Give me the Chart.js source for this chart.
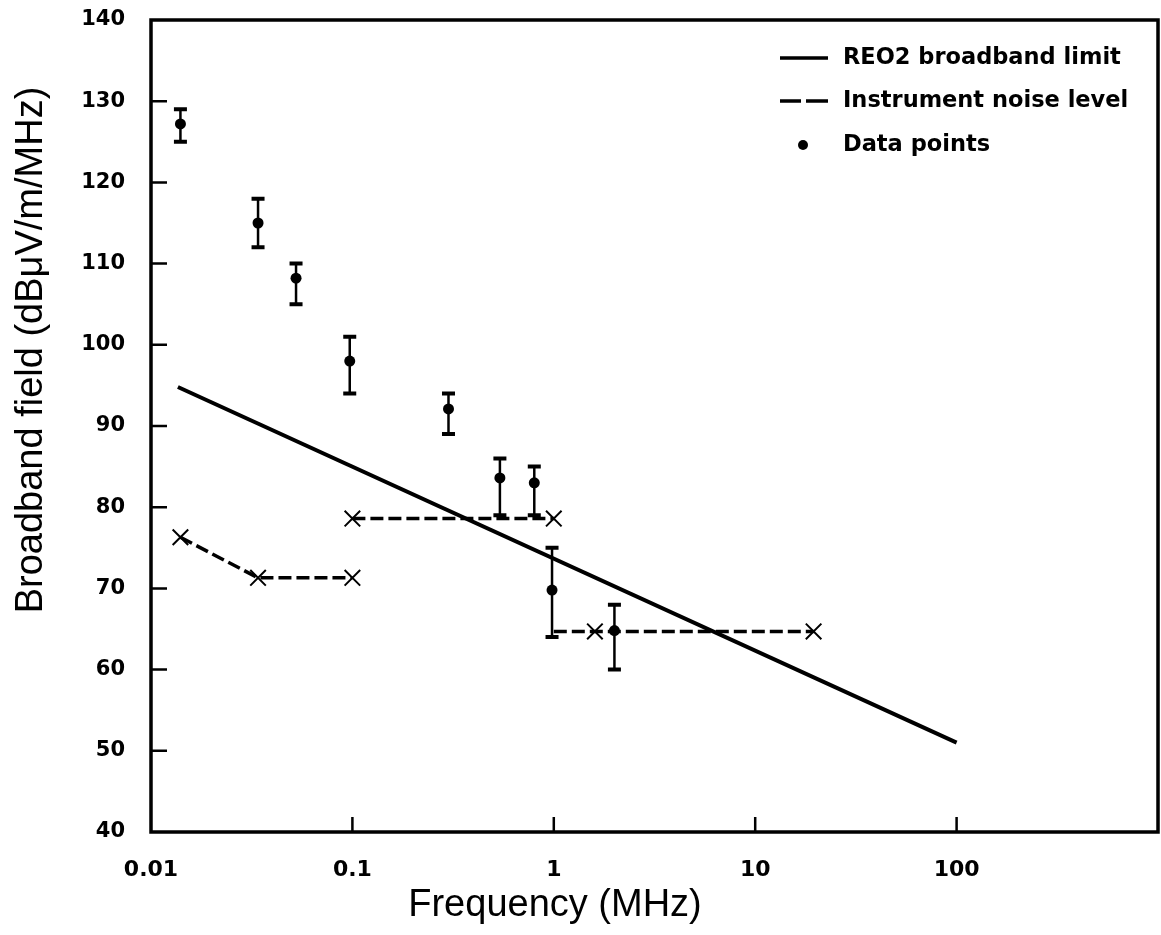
<!DOCTYPE html>
<html>
<head>
<meta charset="utf-8">
<script src="https://cdn.jsdelivr.net/npm/chart.js@4"></script>
<style>
  html, body { margin: 0; padding: 0; background: #fff; }
  canvas { display: block; }
</style>
</head>
<body>
<canvas id="chart" width="1161" height="935"></canvas>
<script>
// tick values
const xTicks = [0.01, 0.1, 1, 10, 100];
const xTickLabels = ["0.01", "0.1", "1", "10", "100"];
const yTicks = [40, 50, 60, 70, 80, 90, 100, 110, 120, 130, 140];

const xTitle = "Frequency (MHz)";
const yTitle = "Broadband field (dBμV/m/MHz)";

// REO2 broadband limit (straight line on log axis)
const limitFreq = [0.0136, 100];
const limitLevel = [94.8, 51];

// instrument noise level, three separate pieces
const noiseFreqA = [0.014, 0.034, 0.1];
const noiseLevelA = [76.3, 71.3, 71.3];
const noiseFreqB = [0.1, 1];
const noiseLevelB = [78.6, 78.6];
const noiseFreqC = [1, 1.6, 19.5];
const noiseLevelC = [64.7, 64.7, 64.7];
const noiseMarkC = [0, 11, 11];

// measured points with error bars
const dataFreq = [0.014, 0.034, 0.0525, 0.097, 0.3, 0.54, 0.8, 0.98, 2.0];
const dataLevel = [127.2, 115, 108.2, 98, 92.1, 83.6, 83, 69.8, 64.8];
const dataHigh = [129, 118, 110, 101, 94, 86, 85, 75, 68];
const dataLow = [125, 112, 105, 94, 89, 79, 79, 64, 60];

const legendLabels = ["REO2 broadband limit", "Instrument noise level", "Data points"];

const pts = (xs, ys) => xs.map((x, i) => ({ x, y: ys[i] }));

const noiseStyle = {
    borderColor: "#000",
    borderWidth: 3.5,
    borderDash: [13, 5],
    pointStyle: "crossRot",
    pointRadius: 11,
    pointBorderWidth: 2,
    pointBorderColor: "#000",
    pointBackgroundColor: "#000",
    showLine: true,
    fill: false
};

// frame, inward ticks, error bars, titles and legend
const extras = {
    id: "extras",
    afterDatasetsDraw(chart) {
        const ctx = chart.ctx;
        const xs = chart.scales.x, ys = chart.scales.y;
        ctx.save();
        ctx.strokeStyle = "#000";
        dataFreq.forEach((f, i) => {
            const px = xs.getPixelForValue(f);
            const hi = ys.getPixelForValue(dataHigh[i]);
            const lo = ys.getPixelForValue(dataLow[i]);
            ctx.lineWidth = 2.5;
            ctx.beginPath();
            ctx.moveTo(px, hi);
            ctx.lineTo(px, lo);
            ctx.stroke();
            ctx.lineWidth = 4;
            ctx.beginPath();
            ctx.moveTo(px - 6.5, hi); ctx.lineTo(px + 6.5, hi);
            ctx.moveTo(px - 6.5, lo); ctx.lineTo(px + 6.5, lo);
            ctx.stroke();
        });
        ctx.restore();
    },
    afterDraw(chart) {
        const ctx = chart.ctx;
        const a = chart.chartArea;
        const xs = chart.scales.x, ys = chart.scales.y;
        ctx.save();
        ctx.strokeStyle = "#000";
        ctx.fillStyle = "#000";
        ctx.lineWidth = 3.5;
        ctx.strokeRect(a.left, a.top, a.right - a.left, a.bottom - a.top);

        // inward ticks
        ctx.lineWidth = 2.5;
        ctx.beginPath();
        xTicks.slice(1).forEach(v => {
            const px = xs.getPixelForValue(v);
            ctx.moveTo(px, a.bottom);
            ctx.lineTo(px, a.bottom - 15);
        });
        yTicks.slice(1, -1).forEach(v => {
            const py = ys.getPixelForValue(v);
            ctx.moveTo(a.left, py);
            ctx.lineTo(a.left + 16, py);
        });
        ctx.stroke();

        // axis titles (off-centre in the original)
        ctx.font = "38px 'Liberation Sans'";
        ctx.textAlign = "center";
        ctx.textBaseline = "middle";
        ctx.fillText(xTitle, 555, 906);
        ctx.save();
        ctx.translate(32, 350);
        ctx.rotate(-Math.PI / 2);
        ctx.fillText(yTitle, 0, 0);
        ctx.restore();

        // legend
        const lx = 780, tx = 843, rows = [58, 101, 145];
        ctx.lineWidth = 3.5;
        ctx.beginPath();
        ctx.moveTo(lx, rows[0]); ctx.lineTo(lx + 48, rows[0]);
        ctx.moveTo(lx, rows[1]); ctx.lineTo(lx + 21, rows[1]);
        ctx.moveTo(lx + 26, rows[1]); ctx.lineTo(lx + 48, rows[1]);
        ctx.stroke();
        ctx.beginPath();
        ctx.arc(lx + 23, rows[2], 5, 0, Math.PI * 2);
        ctx.fill();
        ctx.font = "bold 22.5px 'DejaVu Sans'";
        ctx.textAlign = "left";
        legendLabels.forEach((t, i) => ctx.fillText(t, tx, rows[i]));
        ctx.restore();
    }
};

new Chart(document.getElementById("chart"), {
    type: "scatter",
    data: {
        datasets: [
            {
                label: legendLabels[0],
                data: pts(limitFreq, limitLevel),
                showLine: true,
                borderColor: "#000",
                borderWidth: 4,
                pointRadius: 0,
                fill: false
            },
            { label: legendLabels[1], data: pts(noiseFreqA, noiseLevelA), ...noiseStyle },
            { label: "noise b", data: pts(noiseFreqB, noiseLevelB), ...noiseStyle },
            { label: "noise c", data: pts(noiseFreqC, noiseLevelC), ...noiseStyle, pointRadius: noiseMarkC },
            {
                label: legendLabels[2],
                data: pts(dataFreq, dataLevel),
                showLine: false,
                pointStyle: "circle",
                pointRadius: 5.5,
                pointBackgroundColor: "#000",
                pointBorderColor: "#000",
                pointBorderWidth: 0
            }
        ]
    },
    options: {
        responsive: false,
        animation: false,
        layout: { autoPadding: false, padding: { top: 20, right: 3, left: 0, bottom: 0 } },
        plugins: {
            legend: { display: false },
            tooltip: { enabled: false }
        },
        scales: {
            x: {
                type: "logarithmic",
                position: "bottom",
                min: 0.01,
                max: 1000,
                grid: { display: false, drawTicks: false },
                border: { display: false },
                afterBuildTicks: s => { s.ticks = xTicks.map(v => ({ value: v })); },
                afterFit: s => {
                    s.height = 103;
                    s.paddingLeft = 0;
                    s.paddingRight = 0;
                },
                ticks: {
                    autoSkip: false,
                    maxRotation: 0,
                    padding: 25,
                    color: "#000",
                    font: { family: "'DejaVu Sans'", size: 22, weight: "bold" },
                    callback: v => xTickLabels[xTicks.indexOf(v)] ?? ""
                }
            },
            y: {
                min: 40,
                max: 140,
                grid: { display: false, drawTicks: false },
                border: { display: false },
                afterBuildTicks: s => { s.ticks = yTicks.map(v => ({ value: v })); },
                afterFit: s => {
                    s.width = 151;
                    s.paddingTop = 0;
                    s.paddingBottom = 0;
                },
                ticks: {
                    padding: 26,
                    color: "#000",
                    font: { family: "'DejaVu Sans'", size: 21, weight: "bold" }
                }
            }
        }
    },
    plugins: [extras]
});
</script>
</body>
</html>
